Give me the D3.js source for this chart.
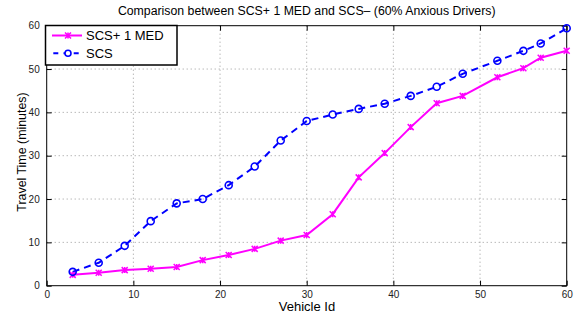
<!DOCTYPE html>
<html><head><meta charset="utf-8">
<script src="https://cdn.jsdelivr.net/npm/d3@7"></script>
<style>body{margin:0;background:#fff}svg{display:block}text{font-family:"Liberation Sans",Arial,sans-serif}</style>
</head><body><svg id="c" width="577" height="316"></svg>
<script>
const vehicleIds = [3,6,9,12,15,18,21,24,27,30,33,36,39,42,45,48,52,55,57,60];
const scsPlus1Med = [2.5,3.0,3.6,3.9,4.3,5.9,7.1,8.5,10.4,11.7,16.5,25.0,30.6,36.6,42.1,43.8,48.1,50.2,52.6,54.2];
const scs = [3.2,5.3,9.2,14.9,19.0,20.0,23.2,27.5,33.5,38.0,39.5,40.8,42.0,43.8,45.9,48.9,51.9,54.2,55.9,59.4];
const xTicks = [0,10,20,30,40,50,60];
const yTicks = [0,10,20,30,40,50,60];
const seriesNames = ["SCS+ 1 MED","SCS"];
const titleText = "Comparison between SCS+ 1 MED and SCS\u2013 (60% Anxious Drivers)";

const svg = d3.select("#c");
const L=46.7,R=566.7,T=25.7,B=285.7;
const x = d3.scaleLinear().domain([0,60]).range([L,R]);
const y = d3.scaleLinear().domain([0,60]).range([B,T]);

// grid
const g = svg.append("g");
g.selectAll("line.gx").data(xTicks.slice(1,-1)).enter().append("line")
 .attr("x1",d=>x(d)).attr("x2",d=>x(d)).attr("y1",T).attr("y2",B)
 .attr("stroke","#999").attr("stroke-width",1).attr("stroke-dasharray","1,3");
g.selectAll("line.gy").data(yTicks.slice(1,-1)).enter().append("line")
 .attr("y1",d=>y(d)).attr("y2",d=>y(d)).attr("x1",L).attr("x2",R)
 .attr("stroke","#999").attr("stroke-width",1).attr("stroke-dasharray","1,3");

// axes
const xa = svg.append("g").attr("transform",`translate(0,${B})`)
 .call(d3.axisBottom(x).tickValues(xTicks).tickSizeInner(-5).tickSizeOuter(0).tickPadding(5));
const ya = svg.append("g").attr("transform",`translate(${L},0)`)
 .call(d3.axisLeft(y).tickValues(yTicks).tickSizeInner(-5).tickSizeOuter(0).tickPadding(7));
const xt = svg.append("g").attr("transform",`translate(0,${T})`)
 .call(d3.axisTop(x).tickValues(xTicks).tickSizeInner(-5).tickSizeOuter(0).tickFormat(""));
const yr = svg.append("g").attr("transform",`translate(${R},0)`)
 .call(d3.axisRight(y).tickValues(yTicks).tickSizeInner(-5).tickSizeOuter(0).tickFormat(""));
[xa,ya,xt,yr].forEach(a=>{a.select(".domain").remove();a.selectAll("text").attr("font-size",10).attr("fill","#222").attr("font-family","'Liberation Sans',Arial,sans-serif");a.selectAll("line").attr("stroke","#000");});
svg.append("rect").attr("x",L).attr("y",T).attr("width",R-L).attr("height",B-T)
 .attr("fill","none").attr("stroke","#000").attr("stroke-width",1);

const line = d3.line().x((d,i)=>x(vehicleIds[i])).y(d=>y(d));
svg.append("path").datum(scsPlus1Med).attr("d",line).attr("fill","none")
 .attr("stroke","#ff00ff").attr("stroke-width",2);
svg.append("path").datum(scs).attr("d",line).attr("fill","none")
 .attr("stroke","#0000ff").attr("stroke-width",2).attr("stroke-dasharray","7,5");

function star(sel,cx,cy){
  const s=3;
  sel.append("path").attr("d",`M${cx-s},${cy-s}L${cx+s},${cy+s}M${cx-s},${cy+s}L${cx+s},${cy-s}M${cx},${cy-s}L${cx},${cy+s}`)
   .attr("stroke","#ff00ff").attr("stroke-width",1.5).attr("fill","none");
}
const mg = svg.append("g");
scsPlus1Med.forEach((v,i)=>star(mg,x(vehicleIds[i]),y(v)));
svg.append("g").selectAll("circle").data(scs).enter().append("circle")
 .attr("cx",(d,i)=>x(vehicleIds[i])).attr("cy",d=>y(d)).attr("r",3.5)
 .attr("fill","none").attr("stroke","#0000ff").attr("stroke-width",1.6);

// legend
svg.append("rect").attr("x",45.5).attr("y",25.5).attr("width",131.5).attr("height",39.5)
 .attr("fill","#fff").attr("stroke","#000").attr("stroke-width",1.5);
svg.append("line").attr("x1",52).attr("x2",82).attr("y1",35.5).attr("y2",35.5)
 .attr("stroke","#ff00ff").attr("stroke-width",2);
star(svg,68,35.5);
svg.append("line").attr("x1",53.3).attr("x2",82).attr("y1",53.3).attr("y2",53.3)
 .attr("stroke","#0000ff").attr("stroke-width",2).attr("stroke-dasharray","5,5.2");
svg.append("circle").attr("cx",68).attr("cy",53.3).attr("r",3).attr("fill","#fff").attr("stroke","#0000ff").attr("stroke-width",1.6);
svg.append("text").attr("x",86).attr("y",40).attr("font-size",13).text(seriesNames[0]);
svg.append("text").attr("x",86).attr("y",58).attr("font-size",13).text(seriesNames[1]);

// labels
svg.append("text").attr("x",(L+R)/2).attr("y",15).attr("text-anchor","middle").attr("font-size",12.3).text(titleText);
svg.append("text").attr("x",307).attr("y",311).attr("text-anchor","middle").attr("font-size",13).text("Vehicle Id");
svg.append("text").attr("transform",`translate(25.5,152) rotate(-90)`).attr("text-anchor","middle").attr("font-size",12.4).text("Travel Time (minutes)");
</script></body></html>
